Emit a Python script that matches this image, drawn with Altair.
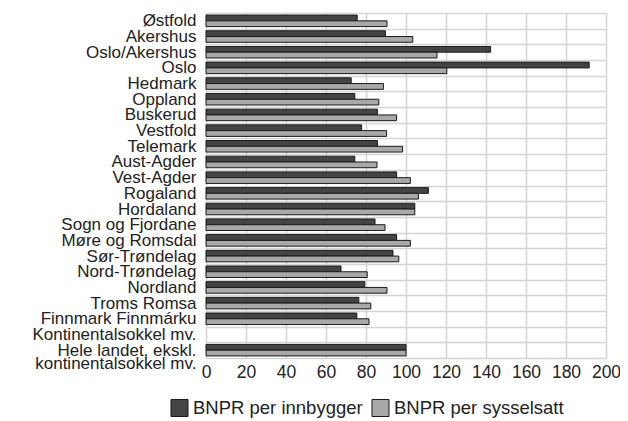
import altair as alt
import pandas as pd

regions = ["Østfold", "Akershus", "Oslo/Akershus", "Oslo", "Hedmark", "Oppland",
           "Buskerud", "Vestfold", "Telemark", "Aust-Agder", "Vest-Agder", "Rogaland",
           "Hordaland", "Sogn og Fjordane", "Møre og Romsdal", "Sør-Trøndelag",
           "Nord-Trøndelag", "Nordland", "Troms Romsa", "Finnmark Finnmárku",
           "Kontinentalsokkel mv.", "Hele landet, ekskl. kontinentalsokkel mv."]
per_innbygger = [75.6, 89.7, 142.3, 191.6, 72.6, 74.4, 85.7, 77.8, 85.7, 74.4, 95.3,
                 111.2, 104.4, 84.5, 95.3, 93.5, 67.5, 79.4, 76.4, 75.4, None, 100.0]
per_sysselsatt = [90.5, 103.4, 115.5, 120.4, 88.7, 86.4, 95.3, 90.3, 98.3, 85.5, 102.2,
                  106.2, 104.4, 89.5, 102.2, 96.4, 80.6, 90.5, 82.4, 81.5, None, 100.0]
series = ["BNPR per innbygger", "BNPR per sysselsatt"]

rows = []
for r, a, b in zip(regions, per_innbygger, per_sysselsatt):
    rows.append({"region": r, "serie": series[0], "verdi": a})
    rows.append({"region": r, "serie": series[1], "verdi": b})
df = pd.DataFrame(rows)

font = "Liberation Sans"
last = regions[-1]
label_expr = ("datum.label == '" + last + "' ? ['Hele landet, ekskl.', 'kontinentalsokkel mv.'] : datum.label")

chart = alt.Chart(df).mark_bar(strokeWidth=1, stroke="#1a1a1a").encode(
    y=alt.Y("region:N", sort=regions, title=None,
            scale=alt.Scale(paddingInner=0, paddingOuter=0),
            axis=alt.Axis(tickBand="extent", ticks=False, domain=False, grid=True,
                          gridColor="#d4d4d4", gridWidth=1.5,
                          labelFont=font, labelFontSize=17, labelColor="#222222",
                          labelPadding=10, labelLimit=300, labelLineHeight=13,
                          labelBaseline="middle",
                          labelExpr=label_expr)),
    yOffset=alt.YOffset("serie:N", sort=series,
                        scale=alt.Scale(paddingInner=0, paddingOuter=0.36)),
    x=alt.X("verdi:Q", title=None,
            scale=alt.Scale(domain=[0, 200], nice=False),
            axis=alt.Axis(values=list(range(0, 201, 20)), ticks=False, domain=False,
                          gridColor="#d4d4d4", gridWidth=1.5,
                          labelFont=font, labelFontSize=17.5, labelColor="#222222",
                          labelPadding=5, labelFlush=False)),
    color=alt.Color("serie:N", sort=series,
                    scale=alt.Scale(domain=series, range=["#444444", "#a8a8a8"]),
                    legend=alt.Legend(title=None, orient="none", legendX=-36, legendY=385,
                                      direction="horizontal", symbolType="square",
                                      symbolSize=290, symbolStrokeColor="#1a1a1a",
                                      symbolStrokeWidth=1, labelFont=font,
                                      labelFontSize=18.5, labelColor="#222222",
                                      labelLimit=300, columnPadding=6, labelOffset=4)),
).properties(
    width=400, height=345,
    autosize=alt.AutoSizeParams(type="none"),
    padding={"left": 198, "top": 5, "right": 14, "bottom": 62},
).configure_view(stroke="#d4d4d4", strokeWidth=1.5).configure(background="white")

chart.save("out.html", embed_options={"renderer": "svg", "actions": False})
